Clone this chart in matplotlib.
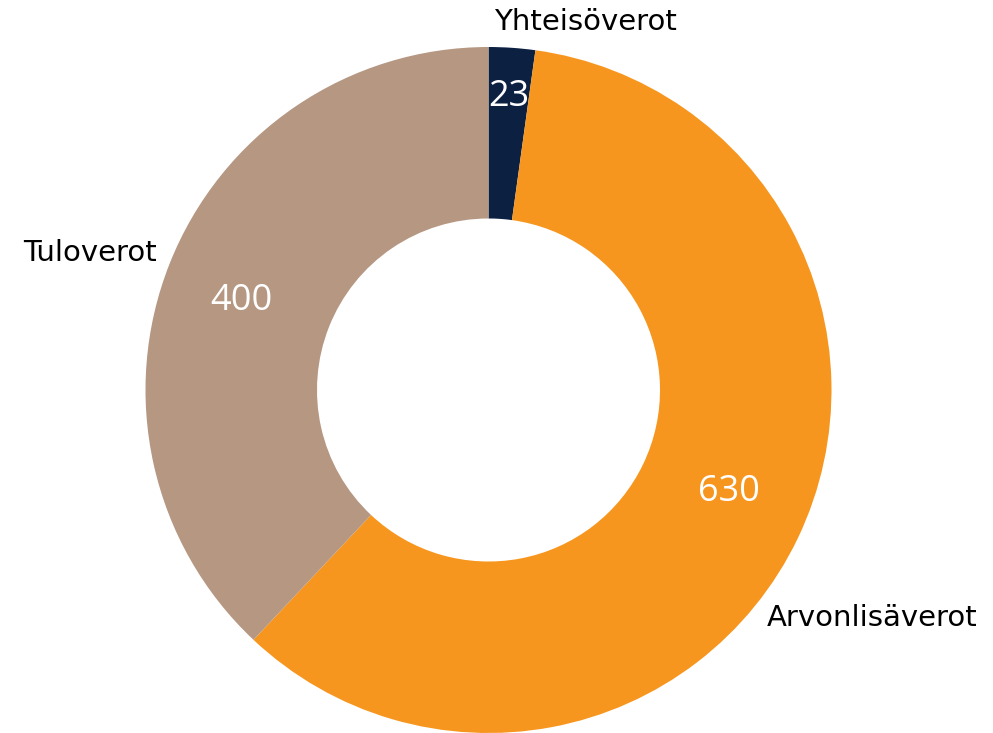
import numpy as np
import matplotlib
matplotlib.use("Agg")
import matplotlib.pyplot as plt

# data
categories = ["Yhteisöverot", "Arvonlisäverot", "Tuloverot"]
values = [23, 630, 400]
colors = ["#0c2141", "#f7961f", "#b59782"]

# layout (pixels, y measured from top)
W, H = 993, 733
cx, cy = 488.5, 390
R = 343
ring = 0.5
val_dist = [0.87, 0.755, 0.77]   # value label radius as fraction of R
val_turn = [0.0, 3.5, 0.9]       # small angle nudges, degrees
name_pos = [(585, 22), (872, 618), (90, 253)]

fig = plt.figure(figsize=(W / 100, H / 100), dpi=100)
ax = fig.add_axes([0, 0, 1, 1])

wedges, _ = ax.pie(values, colors=colors, startangle=90, counterclock=False,
                   radius=R, center=(cx, H - cy), frame=True,
                   wedgeprops=dict(width=R * ring, linewidth=0))

for w, v, d, t in zip(wedges, values, val_dist, val_turn):
    ang = np.deg2rad((w.theta1 + w.theta2) / 2 + t)
    x = cx + R * d * np.cos(ang)
    y = (H - cy) + R * d * np.sin(ang)
    ax.text(x, y, str(v), color="white", fontsize=26, family="Open Sans",
            ha="center", va="center_baseline")

for name, (x, y) in zip(categories, name_pos):
    ax.text(x, H - y, name, color="black", fontsize=21, family="DejaVu Sans",
            ha="center", va="center")

ax.set_xlim(0, W)
ax.set_ylim(0, H)
ax.set_aspect("equal")
ax.axis("off")

fig.savefig("out.png", dpi=100)
